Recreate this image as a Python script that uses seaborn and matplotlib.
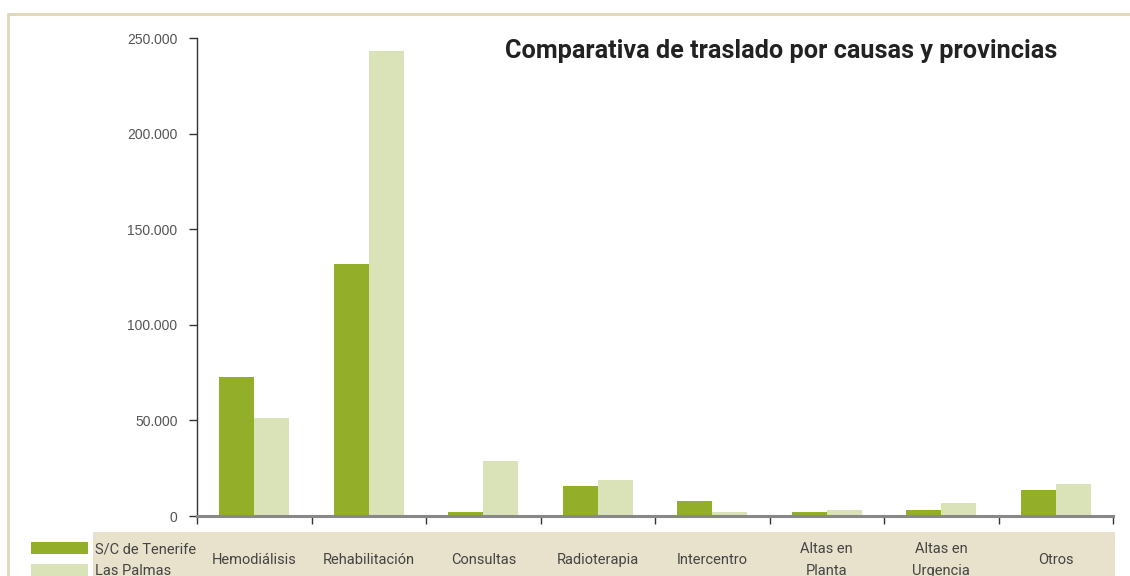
import matplotlib
matplotlib.use("Agg")
import matplotlib.pyplot as plt
from matplotlib.patches import Rectangle
from matplotlib.lines import Line2D
from matplotlib.ticker import FuncFormatter
import seaborn as sns
import pandas as pd

categorias = ["Hemodiálisis", "Rehabilitación", "Consultas", "Radioterapia",
              "Intercentro", "Altas en\nPlanta", "Altas en\nUrgencia", "Otros"]
tenerife = [72700, 131800, 2000, 15700, 7800, 2000, 3000, 13600]
las_palmas = [51200, 243200, 28800, 18800, 2000, 3000, 6800, 16700]
provincias = ["S/C de Tenerife", "Las Palmas"]
colores = ["#93AF2A", "#DAE2B8"]

df = pd.DataFrame({
    "causa": categorias * 2,
    "provincia": [provincias[0]] * len(categorias) + [provincias[1]] * len(categorias),
    "traslados": tenerife + las_palmas,
})

sns.set_style("white")
plt.rcParams["font.family"] = ["Roboto", "DejaVu Sans"]

fig = plt.figure(figsize=(11.3, 5.76), dpi=100)
ax = fig.add_axes([197 / 1130, 1 - 516 / 576, (1113 - 197) / 1130, (516 - 38) / 576])

sns.barplot(data=df, x="causa", y="traslados", hue="provincia",
            palette=colores, width=0.61, saturation=1, ax=ax, legend=False,
            linewidth=0, edgecolor="none")
ax.set_ylim(0, 250000)
ax.set_xlim(-0.5, len(categorias) - 0.5)
ax.set_xlabel("")
ax.set_ylabel("")
ax.set_yticks([0, 50000, 100000, 150000, 200000, 250000])
ax.yaxis.set_major_formatter(FuncFormatter(lambda v, p: f"{int(v):,}".replace(",", ".")))
ax.tick_params(axis="y", left=True, length=6, width=1, colors="#333333",
               labelcolor="#555555", labelsize=10, pad=8)
for lbl in ax.get_yticklabels():
    lbl.set_family(["Liberation Sans", "DejaVu Sans"])
# category boundaries as ticks
ax.set_xticks([i - 0.5 for i in range(len(categorias) + 1)])
ax.set_xticklabels([])
ax.tick_params(axis="x", bottom=True, length=6, width=1, colors="#333333")
for s in ["top", "right"]:
    ax.spines[s].set_visible(False)
ax.spines["left"].set_color("#333333")
ax.spines["left"].set_linewidth(1)
ax.spines["bottom"].set_color("#888888")
ax.spines["bottom"].set_linewidth(2.2)

# beige band with category labels
fig.patches.append(Rectangle((93 / 1130, 0), (1115 - 93) / 1130, (576 - 532) / 576,
                             transform=fig.transFigure, facecolor="#E8E1CB",
                             edgecolor="none", zorder=-1))
trans = matplotlib.transforms.blended_transform_factory(ax.transData, fig.transFigure)
for i, c in enumerate(categorias):
    ax.text(i, 1 - 560 / 576, c, transform=trans, ha="center", va="center",
            fontsize=10.5, color="#444444", linespacing=1.75, clip_on=False)

# legend
handles = [Rectangle((0, 0), 1, 1, facecolor=col, edgecolor="none") for col in colores]
fig.legend(handles, provincias, loc="upper left",
           bbox_to_anchor=(24 / 1130, 1 - 535 / 576), frameon=False,
           fontsize=10.5, labelcolor="#444444", handlelength=3.9, handleheight=0.85,
           handletextpad=0.45, labelspacing=0.55, borderpad=0)

# title
fig.text(1057 / 1130, 1 - 51 / 576, "Comparativa de traslado por causas y provincias",
         ha="right", va="center", fontsize=18.2, fontweight="bold", color="#222222")

# frame lines
fig.add_artist(Line2D([8 / 1130, 8 / 1130], [0, 1 - 14 / 576], transform=fig.transFigure,
                      color="#E0D7B8", lw=2))
fig.add_artist(Line2D([8 / 1130, 1], [1 - 14 / 576, 1 - 14 / 576], transform=fig.transFigure,
                      color="#E0D7B8", lw=2))

fig.savefig("out.png", dpi=100)
